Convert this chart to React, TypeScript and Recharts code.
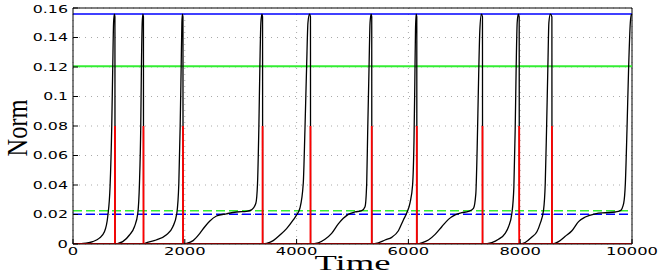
import { LineChart, Line, XAxis, YAxis, CartesianGrid, ReferenceLine } from "recharts";

type Pt = [number, number];

// Black trace (norm vs time), one array per charge/reset cycle: [time, norm]
const cycle1: Pt[] = [[0, 0], [120, 0.0001], [233, 0.0005], [353, 0.0016], [472, 0.004], [562, 0.0083], [621, 0.0185], [663, 0.039], [693, 0.0795], [711, 0.12], [726, 0.15], [740, 0.1558], [750, 0.154], [752, 0]];
const cycle2: Pt[] = [[790, 0.0003], [890, 0.0016], [1010, 0.0061], [1099, 0.0117], [1159, 0.0208], [1189, 0.0411], [1212, 0.0795], [1224, 0.12], [1238, 0.15], [1250, 0.1558], [1260, 0.154], [1262, 0]];
const cycle3: Pt[] = [[1308, 0.0008], [1487, 0.0027], [1666, 0.0061], [1786, 0.0117], [1857, 0.0208], [1893, 0.041], [1917, 0.0795], [1935, 0.12], [1948, 0.15], [1958, 0.1558], [1967, 0.154], [1969, 0]];
const cycle4: Pt[] = [[2030, 0.0004], [2149, 0.0023], [2269, 0.0072], [2358, 0.0117], [2448, 0.0156], [2567, 0.019], [2746, 0.0205], [2925, 0.0217], [3104, 0.0221], [3194, 0.0231], [3271, 0.0276], [3301, 0.041], [3325, 0.0795], [3343, 0.12], [3361, 0.15], [3380, 0.1558], [3391, 0.154], [3393, 0]];
const cycle5: Pt[] = [[3463, 0.0005], [3582, 0.0023], [3702, 0.0061], [3821, 0.0104], [3940, 0.0163], [4000, 0.0197], [4060, 0.0244], [4119, 0.041], [4149, 0.077], [4179, 0.12], [4203, 0.15], [4232, 0.1558], [4248, 0.154], [4250, 0]];
const cycle6: Pt[] = [[4388, 0.0008], [4508, 0.0032], [4627, 0.0072], [4746, 0.0136], [4836, 0.0174], [4925, 0.0201], [5045, 0.0217], [5165, 0.0226], [5224, 0.0253], [5254, 0.041], [5272, 0.077], [5296, 0.12], [5314, 0.15], [5333, 0.1558], [5344, 0.154], [5346, 0]];
const cycle7: Pt[] = [[5463, 0.0008], [5582, 0.0027], [5702, 0.0045], [5821, 0.009], [5910, 0.0163], [5970, 0.021], [6030, 0.028], [6075, 0.04], [6100, 0.07], [6115, 0.11], [6127, 0.145], [6138, 0.1558], [6150, 0.154], [6152, 0]];
const cycle8: Pt[] = [[6239, 0.0008], [6358, 0.0027], [6478, 0.0065], [6597, 0.0117], [6716, 0.0167], [6836, 0.0197], [6955, 0.0212], [7075, 0.0221], [7164, 0.0242], [7206, 0.034], [7230, 0.0645], [7254, 0.109], [7278, 0.145], [7306, 0.1558], [7325, 0.154], [7327, 0]];
const cycle9: Pt[] = [[7492, 0.001], [7612, 0.0032], [7731, 0.0072], [7791, 0.0117], [7851, 0.0208], [7887, 0.0389], [7910, 0.077], [7928, 0.12], [7946, 0.15], [7966, 0.1558], [7982, 0.154], [7984, 0]];
const cycle10: Pt[] = [[8089, 0.001], [8209, 0.0048], [8299, 0.0083], [8358, 0.014], [8418, 0.0231], [8448, 0.041], [8471, 0.077], [8495, 0.12], [8513, 0.15], [8540, 0.1558], [8567, 0.154], [8569, 0]];
const cycle11: Pt[] = [[8686, 0.0016], [8806, 0.0052], [8925, 0.009], [9044, 0.0152], [9164, 0.0183], [9343, 0.0205], [9522, 0.0212], [9701, 0.0217], [9791, 0.0226], [9851, 0.0276], [9881, 0.041], [9910, 0.077], [9940, 0.12], [9970, 0.15], [9990, 0.1555], [10000, 0.1558]];

// red reset pulses
const resetTimes = [750, 1260, 1967, 3391, 4248, 5344, 6150, 7325, 7982, 8567];
const pulseHeight = 0.08;

// horizontal bounds
const upperBlue = 0.156;
const upperGreen = 0.1205;
const lowerGreen = 0.0225;
const lowerBlue = 0.0202;

const xTicks = [0, 2000, 4000, 6000, 8000, 10000];
const yTicks = [0, 0.02, 0.04, 0.06, 0.08, 0.1, 0.12, 0.14, 0.16];

const normData = [cycle1, cycle2, cycle3, cycle4, cycle5, cycle6, cycle7, cycle8, cycle9, cycle10, cycle11]
  .flat()
  .map(([t, v]) => ({ t, v }));

const resetData = [
  { t: 0, v: 0 },
  ...resetTimes.flatMap((t) => [{ t, v: 0 }, { t, v: pulseHeight }, { t, v: 0 }]),
  { t: 10000, v: 0 },
];

const fmt = (v: number) => String(+v.toFixed(2));

// MATLAB-ish wide tick digits
function TickLabel({ x, y, payload, textAnchor, vertical }: any) {
  const s = fmt(payload.value);
  const w = [...s].reduce((a, c) => a + (c === "." ? 4 : 10.4), 0);
  return (
    <text
      x={x}
      y={y}
      dy={vertical ? "0.36em" : "0.72em"}
      textAnchor={textAnchor}
      fontFamily="'DejaVu Sans', sans-serif"
      fontSize={11}
      fill="#000"
      textLength={w}
      lengthAdjust="spacingAndGlyphs"
    >
      {s}
    </text>
  );
}

export default function App() {
  return (
    <div style={{ position: "absolute", left: 0, top: 0, width: 664, height: 273, background: "#fff" }}>
      <LineChart width={664} height={273} margin={{ top: 8, right: 32, bottom: 0, left: 13 }}>
        <CartesianGrid stroke="#aaa" strokeDasharray="1 5" xAxisId="x" yAxisId="y" />
        <XAxis
          xAxisId="x"
          dataKey="t"
          type="number"
          domain={[0, 10000]}
          ticks={xTicks}
          height={29}
          stroke="#000"
          tickSize={-5}
          tickMargin={8}
          tick={<TickLabel />}
          allowDataOverflow
          label={{
            content: (p: any) => {
              const vb = p.viewBox;
              return (
                <text x={vb.x + vb.width / 2} y={vb.y + 26} textAnchor="middle" fontFamily="'Liberation Serif', serif" fontSize={20} textLength={76} lengthAdjust="spacingAndGlyphs" fill="#000">
                  Time
                </text>
              );
            },
          }}
        />
        <YAxis
          yAxisId="y"
          type="number"
          domain={[0, 0.16]}
          ticks={yTicks}
          width={60}
          stroke="#000"
          tickSize={-5}
          tickMargin={10}
          tick={<TickLabel vertical />}
          allowDataOverflow
          label={{
            content: () => (
              <text x={27} y={128} transform="rotate(-90 27 128)" textAnchor="middle" fontFamily="'Liberation Serif', serif" fontSize={30} textLength={57} lengthAdjust="spacingAndGlyphs" fill="#000">
                Norm
              </text>
            ),
          }}
        />
        <ReferenceLine xAxisId="x" yAxisId="y" y={0.16} stroke="#000" strokeWidth={1} />
        <ReferenceLine xAxisId="x" yAxisId="y" x={10000} stroke="#000" strokeWidth={1} />
        <ReferenceLine xAxisId="x" yAxisId="y" y={upperBlue} stroke="#0000ff" strokeWidth={1.5} />
        <ReferenceLine xAxisId="x" yAxisId="y" y={upperGreen} stroke="#33ee33" strokeWidth={2} />
        <ReferenceLine xAxisId="x" yAxisId="y" y={lowerGreen} stroke="#33ee33" strokeWidth={1.5} strokeDasharray="9 4" />
        <ReferenceLine xAxisId="x" yAxisId="y" y={lowerBlue} stroke="#0000ff" strokeWidth={1.5} strokeDasharray="9 4" />
        <Line xAxisId="x" yAxisId="y" data={normData} dataKey="v" type="monotoneX" stroke="#000" strokeWidth={1.3} dot={false} isAnimationActive={false} />
        <Line xAxisId="x" yAxisId="y" data={resetData} dataKey="v" type="linear" stroke="#ff0000" strokeWidth={1.8} dot={false} isAnimationActive={false} />
      </LineChart>
    </div>
  );
}
